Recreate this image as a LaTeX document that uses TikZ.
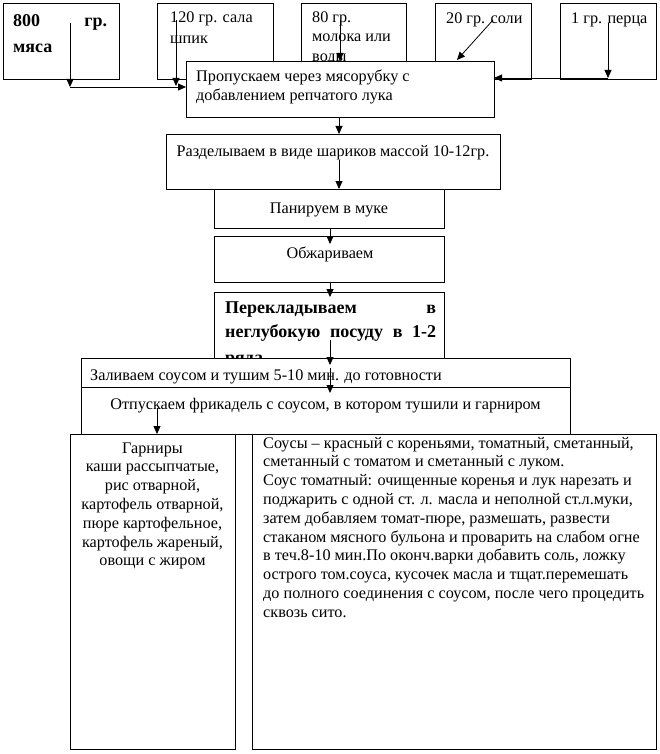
\documentclass[tikz,border=0pt]{standalone}
\usepackage{fontspec}
\setmainfont{Liberation Serif}
\usetikzlibrary{arrows.meta}
\begin{document}
\begin{tikzpicture}[x=1pt,y=-1pt,
  bx/.style={draw, line width=0.8pt, fill=white, anchor=north west, inner sep=0pt, outer sep=0pt},
  txt/.style={inner sep=0pt, anchor=base west, font=\fontsize{16.2}{18.8}\selectfont},
  ctxt/.style={inner sep=0pt, anchor=base, font=\fontsize{16.2}{18.8}\selectfont},
  btxt/.style={inner sep=0pt, anchor=base west, font=\fontsize{18}{25}\selectfont\bfseries},
  arr/.style={line width=0.8pt, -{Triangle[length=8pt,width=7pt]}}]
\fill[white] (0,0) rectangle (659,754);
\useasboundingbox (0,0) rectangle (659,754);

% top ingredient boxes
\node[bx, minimum width=116, minimum height=76] (meat) at (3,3) {};
\node[btxt] (meat1) at (13,27) {\hbox to 94pt{800\hfill гр.}};
\node[btxt] (meat2) at (13,53) {мяса};

\node[bx, minimum width=116, minimum height=76] (salo) at (157,3) {};
\node[txt] (salo1) at (170,23) {120 гр. сала};
\node[txt] (salo2) at (170,44) {шпик};

\node[bx, minimum width=105, minimum height=76] (milk) at (301,3) {};
\node[txt] (milk1) at (312,23) {80 гр.};
\node[txt] (milk2) at (312,42) {молока или};
\node[txt] (milk3) at (312,62) {воды};

\node[bx, minimum width=96, minimum height=76] (salt) at (435,3) {};
\node[txt] (salt1) at (446,24) {20 гр. соли};

\node[bx, minimum width=96, minimum height=76] (pepper) at (560,3) {};
\node[txt] (pepper1) at (571,24) {1 гр. перца};

% process boxes
\node[bx, minimum width=308, minimum height=56] (main) at (186,61) {};
\node[txt] (main1) at (196,82) {Пропускаем через мясорубку с};
\node[txt] (main2) at (196,101) {добавлением репчатого лука};

\node[bx, minimum width=334, minimum height=55] (divide) at (166,134) {};
\node[ctxt] (divide1) at (333,157) {Разделываем в виде шариков массой 10-12гр.};

\node[bx, minimum width=230, minimum height=39] (bread) at (214,189) {};
\node[ctxt] (bread1) at (329,213) {Панируем в муке};

\node[bx, minimum width=230, minimum height=46] (fry) at (214,236) {};
\node[ctxt] (fry1) at (330,258) {Обжариваем};

\node[bx, minimum width=230, minimum height=80] (move) at (214,292) {};
\node[btxt] (move1) at (225,313) {\hbox to 211pt{Перекладываем\hfill в}};
\node[btxt] (move2) at (225,337) {\hbox to 211pt{неглубокую\hfill посуду\hfill в\hfill 1-2}};
\node[btxt] (move3) at (225,363) {ряда};

\node[bx, minimum width=489, minimum height=29] (pour) at (81,358) {};
\node[txt] (pour1) at (90,380) {Заливаем соусом и тушим 5-10 мин. до готовности};

\node[bx, minimum width=489, minimum height=47] (serve) at (81,387) {};
\node[ctxt] (serve1) at (325.5,409) {Отпускаем фрикадель с соусом, в котором тушили и гарниром};

\node[bx, minimum width=165, minimum height=315] (garn) at (70,434) {};
\foreach \t [count=\i] in {Гарниры, {каши рассыпчатые,}, {рис отварной,}, {картофель отварной,}, {пюре картофельное,}, {картофель жареный,}, {овощи с жиром}}
  \node[ctxt] (g\i) at (152.5,{453+18.8*(\i-1)}) {\t};

\node[bx, minimum width=404, minimum height=315] (sauce) at (252,434) {};
\foreach \t [count=\i] in {{Соусы – красный с кореньями, томатный, сметанный,},
  {сметанный с томатом и сметанный с луком.},
  {Соус томатный: очищенные коренья и лук нарезать и},
  {поджарить с одной ст. л. масла и неполной ст.л.муки,},
  {затем добавляем томат-пюре, размешать, развести},
  {стаканом мясного бульона и проварить на слабом огне},
  {в теч.8-10 мин.По оконч.варки добавить соль, ложку},
  {острого том.соуса, кусочек масла и тщат.перемешать},
  {до полного соединения с соусом, после чего процедить},
  {сквозь сито.}}
  \node[txt] (s\i) at (263,{448+18.8*(\i-1)}) {\t};

% connector coordinates
\coordinate (m0) at (70,23);
\coordinate (m1) at (70,87);
\coordinate (sa0) at (176,20);
\coordinate (sa1) at (176,86);
\coordinate (mi0) at (340,20);
\coordinate (so0) at (493,20);
\coordinate (so1) at (457,60);
\coordinate (p0) at (608,23);
\coordinate (p1) at (608,78);
\coordinate (d0) at (339,160);
\coordinate (b0) at (330,228);
\coordinate (b1) at (330,244);
\coordinate (f1) at (330,297);
\coordinate (mv0) at (330,340);
\coordinate (mv1) at (330,365);
\coordinate (po0) at (330,368);
\coordinate (po1) at (330,393);
\coordinate (se0) at (157,408);

% connectors
\draw[arr] (m0) -- (m1);
\draw[arr] (m1) -- (m1 -| main.west);
\draw[arr] (sa0) -- (sa1);
\draw[arr] (mi0) -- (mi0 |- main.north);
\draw[arr] (so0) -- (so1);
\draw[arr] (p0) -- (p1);
\draw[arr] (p1) -- (p1 -| main.east);
\draw[arr] (main.south -| d0) -- (d0 |- divide.north);
\draw[arr] (d0) -- (d0 |- bread.north);
\draw[arr] (b0) -- (b1);
\draw[arr] (b0 |- fry.south) -- (f1);
\draw[arr] (mv0) -- (mv1);
\draw[arr] (po0) -- (po1);
\draw[arr] (se0) -- (se0 |- garn.north);
\end{tikzpicture}
\end{document}
